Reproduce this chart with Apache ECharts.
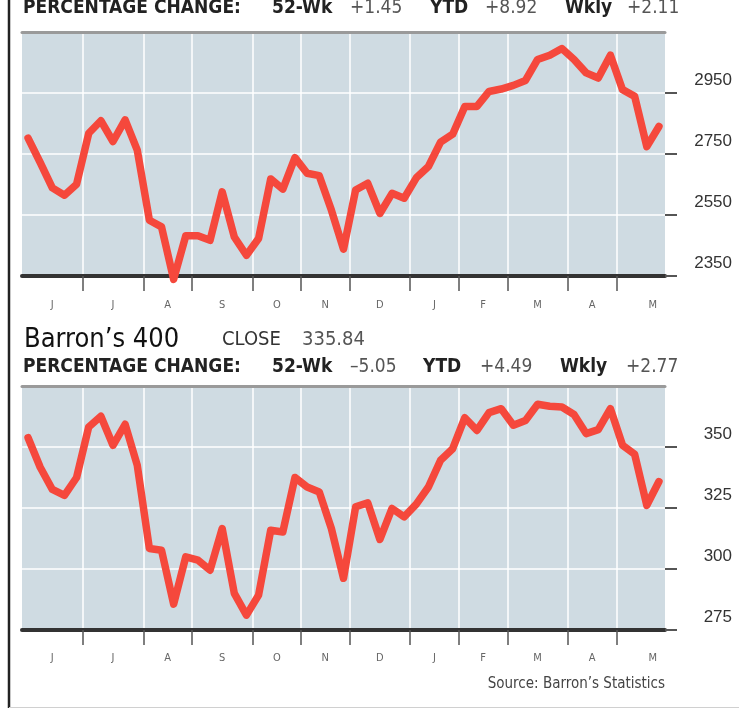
<!DOCTYPE html>
<html>
<head>
<meta charset="utf-8">
<title>Barron's 400</title>
<script src="https://cdn.jsdelivr.net/npm/echarts@6/dist/echarts.min.js"></script>
<style>
  html, body { margin: 0; padding: 0; background: #fff; }
  #chart { width: 739px; height: 709px; }
</style>
</head>
<body>
<div id="chart"></div>
<script type="text/javascript">

// weeks run Jun .. May, 53 weekly closes
var months = ['J', 'J', 'A', 'S', 'O', 'N', 'D', 'J', 'F', 'M', 'A', 'M'];
var monthStarts = [5, 10, 14, 19, 23, 27, 32, 36, 40, 45, 49];
var monthLabelPos = [2.5, 7.5, 12, 16.5, 21, 25, 29.5, 34, 38, 42.5, 47, 52];

// upper panel (index level)
var topValues = [2802, 2722, 2639, 2615, 2651, 2818, 2859, 2791, 2862, 2763,
                 2533, 2511, 2339, 2482, 2482, 2467, 2626, 2478, 2418, 2473,
                 2668, 2635, 2738, 2687, 2679, 2566, 2438, 2632, 2654, 2555,
                 2621, 2605, 2672, 2709, 2789, 2815, 2906, 2906, 2955, 2963,
                 2975, 2991, 3060, 3074, 3096, 3060, 3016, 2999, 3074, 2961,
                 2939, 2774, 2840];
var topMin = 2350, topMax = 3150, topStep = 200;

// Barron's 400
var b400Values = [353.8, 341.7, 332.6, 330.2, 337.5, 358.2, 362.6, 350.7, 359.3, 342.5,
                  308.4, 307.7, 285.6, 305.0, 303.6, 299.5, 316.6, 290.0, 281.1, 289.3,
                  315.9, 315.2, 337.5, 333.6, 331.6, 316.6, 296.2, 325.5, 327.1, 312.1,
                  324.8, 321.4, 326.6, 333.6, 344.6, 349.3, 362.0, 356.8, 364.1, 365.7,
                  358.9, 360.9, 367.5, 366.7, 366.4, 363.3, 355.5, 357.1, 365.7, 350.7,
                  347.0, 326.1, 335.84];
var b400Min = 275, b400Max = 375, b400Step = 25;

var NARROW = "'Liberation Sans Narrow', 'DejaVu Sans Condensed', sans-serif";
var RED = '#f5483c';

function toPoints(arr) {
    return arr.map(function (v, i) { return [i + 0.5, v]; });
}

function topLine(g) {
    return {
        gridIndex: g, type: 'value', min: 0, max: 53, position: 'top',
        axisLine: { show: true, onZero: false, lineStyle: { color: '#9a9a9a', width: 3 } },
        axisTick: { show: false }, axisLabel: { show: false }, splitLine: { show: false }
    };
}

function monthAxis(g, margin) {
    return {
        gridIndex: g, type: 'value', min: 0, max: 53, position: 'bottom',
        axisLine: { show: true, onZero: false, lineStyle: { color: '#333', width: 4 } },
        axisTick: { show: true, customValues: monthStarts, length: 15,
                    lineStyle: { color: '#555', width: 1.5 } },
        splitLine: { show: true, lineStyle: { color: '#fff', width: 1.5 } },
        axisLabel: {
            customValues: monthLabelPos,
            formatter: function (v) { return months[monthLabelPos.indexOf(v)]; },
            color: '#666', fontSize: 11, fontFamily: NARROW, margin: margin
        }
    };
}

function valueAxis(g, min, max, step) {
    return {
        gridIndex: g, type: 'value', position: 'right',
        min: min, max: max, interval: step,
        axisLine: { show: false, onZero: false },
        axisTick: { show: true, inside: false, length: 12, lineStyle: { color: '#555', width: 2 } },
        splitLine: { show: true, showMinLine: false, showMaxLine: false,
                     lineStyle: { color: '#fff', width: 1.5 } },
        axisLabel: {
            showMaxLabel: false, showMinLabel: true,
            formatter: function (v) { return String(v); },
            align: 'right', margin: 67, verticalAlign: 'bottom', lineHeight: 26,
            fontSize: 17, color: '#333', fontFamily: "'Liberation Sans', sans-serif"
        }
    };
}

function txt(x, y, s, font, color, align) {
    return {
        type: 'text', x: x, y: y, silent: true,
        style: {
            text: s, font: font, fill: color,
            align: align || 'left', textAlign: align || 'left',
            verticalAlign: 'middle', textVerticalAlign: 'middle'
        }
    };
}

var boldF = 'bold 19px ' + NARROW;
var regF = '19px ' + NARROW;

var headerRow = function (y, vals) {
    return [
        txt(23, y, 'PERCENTAGE CHANGE:', boldF, '#222'),
        txt(272, y, '52-Wk', boldF, '#222'),
        txt(vals[0][0], y, vals[0][1], regF, '#555'),
        txt(vals[1][0], y, 'YTD', boldF, '#222'),
        txt(vals[2][0], y, vals[2][1], regF, '#555'),
        txt(vals[3][0], y, 'Wkly', boldF, '#222'),
        txt(vals[4][0], y, vals[4][1], regF, '#555')
    ];
};

var graphics = [
    { type: 'line', silent: true, shape: { x1: 9, y1: 0, x2: 9, y2: 708 },
      style: { stroke: '#222', lineWidth: 2.5 } },
    { type: 'line', silent: true, shape: { x1: 9, y1: 707.5, x2: 739, y2: 707.5 },
      style: { stroke: '#d0d0d0', lineWidth: 1 } },
    txt(24, 340, 'Barron\u2019s 400', '27px ' + NARROW, '#111'),
    txt(222, 340, 'CLOSE', '20px ' + NARROW, '#333'),
    txt(302, 340, '335.84', '20px ' + NARROW, '#555'),
    txt(665, 684, 'Source: Barron\u2019s Statistics', '15px ' + NARROW, '#444', 'right')
].concat(
    headerRow(8, [[350, '+1.45'], [430, ''], [485, '+8.92'], [565, ''], [627, '+2.11']]),
    headerRow(367, [[350, '\u20135.05'], [423, ''], [480, '+4.49'], [560, ''], [626, '+2.77']])
);

var myChart = echarts.init(document.getElementById('chart'));

myChart.setOption({
    animation: false,
    backgroundColor: '#fff',
    grid: [
        { left: 22, top: 32, width: 643, height: 244, show: true,
          backgroundColor: '#cfdbe2', borderWidth: 0 },
        { left: 22, top: 386, width: 643, height: 244, show: true,
          backgroundColor: '#cfdbe2', borderWidth: 0 }
    ],
    xAxis: [topLine(0), monthAxis(0, 24), topLine(1), monthAxis(1, 23)],
    yAxis: [valueAxis(0, topMin, topMax, topStep), valueAxis(1, b400Min, b400Max, b400Step)],
    graphic: graphics,
    series: [
        {
            type: 'line', xAxisIndex: 1, yAxisIndex: 0,
            data: toPoints(topValues),
            symbol: 'none', clip: false, z: 5,
            lineStyle: { color: RED, width: 7.5, join: 'round', cap: 'round' }
        },
        {
            type: 'line', xAxisIndex: 3, yAxisIndex: 1,
            data: toPoints(b400Values),
            symbol: 'none', clip: false, z: 5,
            lineStyle: { color: RED, width: 7.5, join: 'round', cap: 'round' }
        }
    ]
});

</script>
</body>
</html>
